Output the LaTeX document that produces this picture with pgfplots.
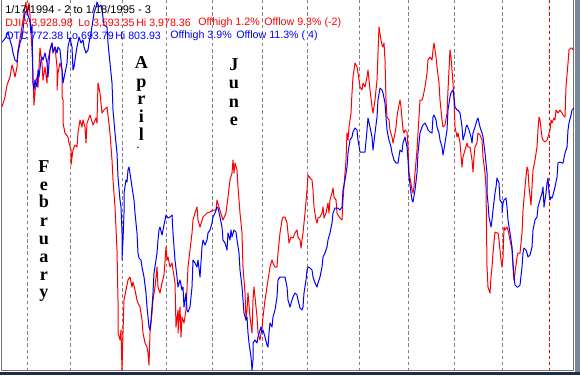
\documentclass[border=0pt]{standalone}
\usepackage{pgfplots}
\pgfplotsset{compat=1.18}
\usepackage{fontspec}
\setmainfont{Liberation Sans}
\newfontfamily\serifb{Liberation Serif}
\definecolor{navy}{RGB}{30,44,72}
\definecolor{sidegray}{RGB}{120,136,156}
\definecolor{gridg}{RGB}{128,128,128}
\newcommand{\ml}[3]{\node[anchor=base, inner sep=0pt, font=\serifb\bfseries\fontsize{13.6}{14}\selectfont] at (axis cs:#1,#2) {#3};}
\begin{document}
\begin{tikzpicture}
\begin{axis}[
  hide axis, scale only axis,
  width=435pt, height=281.25pt,
  xmin=0, xmax=580, ymin=0, ymax=375,
  y dir=reverse, clip=true,
]
% window background and frame
\fill[navy] (axis cs:0,0) rectangle (axis cs:580,375);
\fill[sidegray] (axis cs:574,0) rectangle (axis cs:580,372);
\fill[white] (axis cs:0,0) rectangle (axis cs:575,372);
\draw[gray!90!black, line width=0.75pt] (axis cs:1.5,0) -- (axis cs:1.5,370.5) -- (axis cs:573.5,370.5) -- (axis cs:573.5,0);
% month separators
\pgfplotsinvokeforeach{27,70,122,166,212,262,307,359,408,454,502}{
  \draw[gridg, line width=0.75pt, dash pattern=on 2.6pt off 2pt] (axis cs:#1,0) -- (axis cs:#1,370);
}
\draw[red, line width=0.75pt, dash pattern=on 2.6pt off 2pt] (axis cs:549,0) -- (axis cs:549,370);

% DJIA (red)
\addplot[red, line width=0.75pt, line join=round] coordinates {
(2,107) (5,97) (7,85) (10,77) (12,65) (13,68) (15,77) (17,67) (18,50) (21,33) (23,20) (25,7) (26,2) (27,15) (29,3) (30,15) (32,50) (34,105) (36,80) (37,77) (38,87) (40,48) (42,63) (43,80) (45,67) (47,83) (48,60) (50,50) (52,43) (53,53) (55,47) (57,67) (57,90) (58,73) (60,63) (62,70) (62,97) (63,100) (63,123) (65,133) (68,137) (69,143) (71,150) (71,165) (73,150) (75,145) (77,147) (78,133) (80,120) (82,127) (83,120) (85,127) (86,143) (87,123) (90,115) (93,125) (96,118) (97,123) (98,83) (100,93) (102,113) (104,110) (107,107) (108,115) (110,133) (112,160) (113,180) (115,207) (117,250) (118,300) (118,333) (120,340) (121,330) (122,370) (123,333) (124,300) (126,290) (128,280) (130,277) (132,287) (133,282) (135,290) (137,300) (138,303) (140,307) (142,320) (143,333) (145,343) (147,347) (148,353) (149,365) (150,333) (152,313) (153,300) (155,287) (157,267) (158,287) (160,293) (162,283) (164,275) (166,247) (167,260) (168,257) (170,267) (172,263) (175,283) (176,327) (178,310) (178,333) (180,307) (181,337) (182,317) (184,323) (186,310) (188,267) (190,250) (192,233) (193,220) (195,213) (197,207) (198,220) (200,227) (203,217) (207,213) (210,212) (213,210) (216,210) (217,200) (219,207) (222,217) (223,220) (226,213) (228,197) (230,180) (232,173) (233,160) (234,173) (235,163) (237,170) (238,187) (240,213) (242,233) (243,267) (245,293) (246,320) (247,310) (248,293) (250,317) (252,333) (253,300) (254,287) (255,297) (257,317) (258,333) (260,340) (262,327) (263,317) (265,300) (267,287) (268,280) (270,267) (272,260) (273,263) (275,267) (277,267) (278,253) (280,233) (282,220) (283,217) (285,217) (287,223) (288,233) (289,243) (291,237) (293,238) (295,233) (297,230) (298,237) (300,240) (301,248) (302,240) (303,233) (305,213) (307,190) (308,175) (310,178) (312,180) (313,190) (314,207) (316,220) (317,223) (318,218) (320,217) (322,213) (323,207) (324,218) (326,213) (328,203) (329,213) (330,200) (332,193) (333,188) (334,197) (336,200) (337,213) (338,215) (340,218) (342,220) (343,200) (345,173) (346,160) (347,133) (348,140) (349,127) (351,113) (352,93) (353,77) (355,63) (357,67) (358,73) (360,87) (362,90) (363,83) (365,87) (367,77) (368,70) (370,90) (372,107) (373,113) (375,100) (377,80) (378,53) (379,27) (381,40) (382,45) (383,47) (384,43) (385,60) (386,100) (387,117) (389,120) (390,130) (392,137) (393,143) (395,133) (396,127) (397,117) (398,110) (400,100) (401,107) (403,130) (404,133) (405,130) (407,132) (408,147) (409,173) (411,183) (412,190) (413,193) (414,187) (415,173) (417,150) (418,133) (420,100) (422,100) (423,97) (425,87) (427,73) (428,60) (430,57) (432,60) (433,50) (434,43) (436,57) (437,67) (439,83) (440,100) (442,120) (443,127) (445,125) (447,113) (448,90) (450,50) (451,57) (453,83) (454,100) (455,127) (457,137) (458,133) (460,143) (462,167) (463,157) (465,150) (467,143) (468,147) (470,147) (472,160) (473,172) (474,157) (475,147) (477,143) (478,133) (480,135) (482,140) (483,157) (485,173) (486,187) (487,267) (488,287) (490,293) (491,277) (492,267) (493,253) (495,232) (497,233) (498,233) (499,240) (501,260) (502,267) (503,257) (504,227) (505,230) (507,227) (508,230) (510,240) (512,250) (513,267) (514,280) (515,273) (517,257) (518,253) (520,253) (522,233) (523,210) (525,187) (527,167) (528,170) (529,187) (531,205) (532,187) (533,170) (535,160) (537,147) (538,130) (539,117) (540,120) (542,137) (543,140) (545,142) (547,140) (548,137) (550,130) (551,120) (552,123) (554,118) (555,120) (556,110) (558,113) (560,110) (562,113) (563,115) (565,117) (566,87) (568,63) (569,50) (571,48) (572,48) (573,50)
};

% OTC (blue)
\addplot[blue, line width=0.75pt, line join=round] coordinates {
(2,42) (4,40) (6,37) (8,32) (10,40) (12,47) (13,53) (15,60) (17,62) (18,53) (20,43) (22,37) (23,30) (24,20) (25,13) (27,10) (28,15) (30,22) (31,33) (32,25) (33,83) (34,90) (35,80) (37,87) (38,70) (39,77) (41,60) (42,57) (43,60) (45,53) (47,63) (48,77) (50,50) (52,43) (53,52) (55,47) (57,53) (58,47) (60,50) (62,70) (63,83) (65,73) (67,63) (68,47) (70,38) (72,47) (73,70) (74,67) (76,53) (77,47) (79,37) (81,43) (83,40) (84,47) (86,53) (88,50) (89,43) (91,33) (93,20) (94,13) (96,7) (97,2) (99,7) (101,5) (102,10) (104,25) (107,27) (108,43) (110,63) (112,83) (113,110) (115,133) (117,153) (118,177) (120,200) (121,207) (122,233) (122,260) (123,240) (124,213) (124,193) (126,180) (127,182) (128,170) (129,167) (131,180) (132,187) (134,200) (135,213) (137,233) (138,253) (139,258) (141,260) (142,267) (144,277) (146,293) (147,307) (149,327) (150,330) (151,320) (152,307) (153,293) (154,273) (156,260) (157,253) (158,240) (159,230) (160,227) (162,235) (163,230) (165,220) (166,215) (168,218) (170,217) (172,215) (173,233) (175,260) (177,277) (178,287) (180,280) (182,290) (183,287) (184,307) (186,293) (187,310) (188,312) (190,307) (192,287) (193,260) (195,263) (197,267) (198,260) (200,277) (202,247) (203,240) (205,245) (207,240) (208,233) (210,230) (212,223) (213,217) (215,213) (217,207) (218,208) (220,217) (222,227) (223,240) (225,243) (227,250) (228,233) (230,240) (231,230) (232,237) (234,230) (236,232) (237,240) (239,253) (240,270) (242,287) (243,300) (244,313) (246,320) (247,317) (248,333) (249,343) (251,357) (252,370) (253,360) (253,343) (255,340) (257,343) (258,337) (260,330) (261,327) (262,333) (263,330) (265,337) (267,345) (268,347) (269,333) (270,323) (272,327) (273,317) (275,310) (277,297) (278,280) (280,277) (283,277) (285,277) (287,287) (288,300) (290,307) (292,300) (293,297) (295,293) (297,295) (298,300) (300,308) (302,310) (303,307) (304,293) (306,280) (307,270) (308,267) (310,268) (312,270) (313,277) (315,283) (317,287) (318,283) (320,277) (322,267) (323,257) (325,253) (327,247) (328,240) (330,233) (332,223) (333,213) (335,208) (337,208) (338,208) (340,210) (342,207) (343,190) (345,180) (347,167) (348,153) (350,140) (352,137) (353,132) (355,128) (357,130) (358,140) (360,152) (363,152) (365,152) (367,130) (368,118) (370,127) (372,137) (373,150) (375,133) (377,117) (378,100) (380,88) (382,90) (383,93) (385,103) (386,117) (387,130) (389,140) (391,147) (392,153) (394,160) (396,163) (398,163) (400,150) (402,152) (403,143) (405,137) (407,147) (408,160) (409,177) (411,193) (412,200) (413,202) (415,190) (417,173) (418,153) (420,133) (422,127) (423,125) (425,123) (427,127) (428,130) (430,132) (432,133) (433,117) (434,115) (436,120) (437,127) (439,133) (440,140) (442,147) (443,155) (445,143) (447,130) (448,110) (450,97) (451,93) (453,90) (454,97) (455,107) (457,110) (458,110) (460,113) (462,127) (463,140) (465,133) (466,127) (467,125) (469,130) (471,137) (472,143) (473,133) (475,127) (477,120) (478,118) (480,127) (482,133) (483,137) (485,153) (487,173) (487,193) (488,203) (489,217) (491,227) (492,220) (493,210) (495,193) (496,187) (497,178) (499,183) (500,200) (502,203) (502,213) (503,203) (504,200) (506,198) (507,207) (508,220) (509,227) (510,233) (512,247) (513,263) (514,277) (515,285) (517,287) (518,287) (520,285) (522,267) (523,253) (524,248) (526,250) (527,253) (528,257) (530,255) (532,247) (533,230) (535,220) (537,217) (538,207) (540,200) (542,193) (543,187) (544,207) (546,193) (547,183) (548,178) (549,193) (550,200) (551,197) (552,198) (553,195) (555,187) (557,177) (558,163) (560,162) (562,163) (563,163) (565,153) (567,147) (568,130) (569,123) (571,115) (572,110) (574,108)
};

% header text
\node[anchor=west, inner sep=0pt, font=\fontsize{8.3}{10}\selectfont] at (axis cs:5,10) {1/17/1994 - 2 to 1/18/1995 - 3};
\node[anchor=west, inner sep=0pt, text=red, font=\fontsize{8}{10}\selectfont] at (axis cs:5,23) {DJIA 3,928.98};
\node[anchor=west, inner sep=0pt, text=red, font=\fontsize{8}{10}\selectfont] at (axis cs:78,23) {Lo 3,593.35};
\node[anchor=west, inner sep=0pt, text=red, font=\fontsize{8}{10}\selectfont] at (axis cs:136,23) {Hi 3,978.36};
\node[anchor=west, inner sep=0pt, text=red, font=\fontsize{8}{10}\selectfont] at (axis cs:198,23) {Offhigh 1.2\%};
\node[anchor=west, inner sep=0pt, text=red, font=\fontsize{8}{10}\selectfont] at (axis cs:264,23) {Offlow 9.3\% (-2)};
\node[anchor=west, inner sep=0pt, text=blue, font=\fontsize{8}{10}\selectfont] at (axis cs:5,36) {OTC 772.38};
\node[anchor=west, inner sep=0pt, text=blue, font=\fontsize{8}{10}\selectfont] at (axis cs:66,36) {Lo 693.79};
\node[anchor=west, inner sep=0pt, text=blue, font=\fontsize{8}{10}\selectfont] at (axis cs:115,36) {Hi 803.93};
\node[anchor=west, inner sep=0pt, text=blue, font=\fontsize{8}{10}\selectfont] at (axis cs:170,36) {Offhigh 3.9\%};
\node[anchor=west, inner sep=0pt, text=blue, font=\fontsize{8}{10}\selectfont] at (axis cs:236,36) {Offlow 11.3\% ( 4)};

% month labels
\ml{44}{172}{F}\ml{44}{190}{e}\ml{44}{207.5}{b}\ml{44}{226}{r}
\ml{44}{244}{u}\ml{44}{262}{a}\ml{44}{280}{r}\ml{44}{297.5}{y}
\ml{141.5}{68}{A}\ml{141.5}{87}{p}\ml{141.5}{104}{r}\ml{141.5}{122}{i}\ml{141.5}{140}{l}
\node[anchor=base, inner sep=0pt, font=\serifb\bfseries\fontsize{7}{8}\selectfont] at (axis cs:138,148) {.};
\ml{234}{70}{J}\ml{234}{88}{u}\ml{234}{107}{n}\ml{234}{125}{e}
\end{axis}
\end{tikzpicture}
\end{document}
